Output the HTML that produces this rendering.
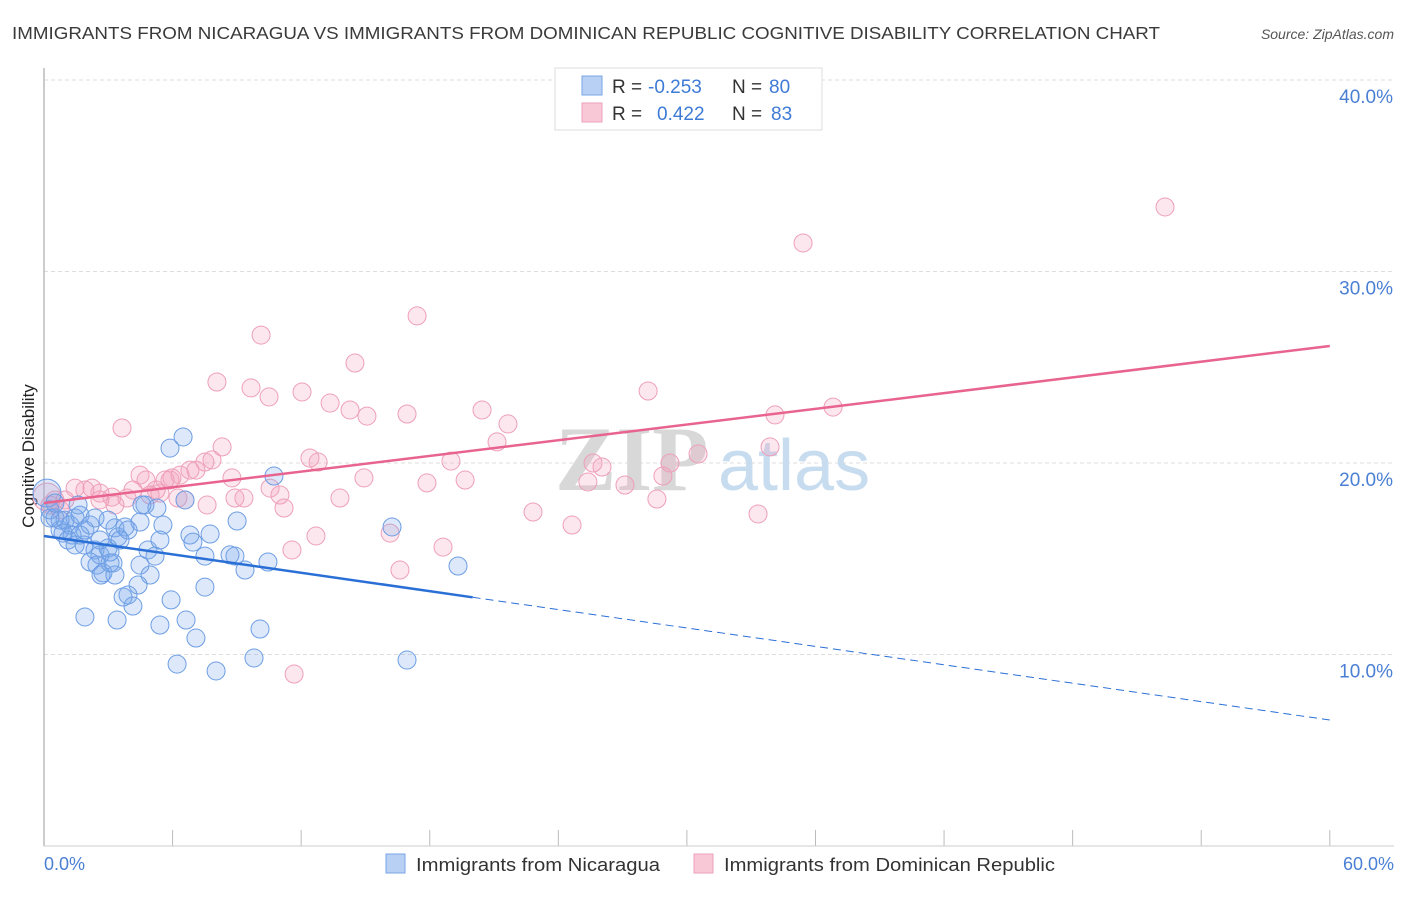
<!DOCTYPE html>
<html><head><meta charset="utf-8"><style>
body{margin:0;background:#fff;font-family:"Liberation Sans",sans-serif;}
</style></head><body>
<svg id="chart" width="1406" height="892" xmlns="http://www.w3.org/2000/svg" font-family="Liberation Sans, sans-serif">
<text x="12" y="39" font-size="17.5" fill="#3a3a3a" textLength="1148" lengthAdjust="spacingAndGlyphs">IMMIGRANTS FROM NICARAGUA VS IMMIGRANTS FROM DOMINICAN REPUBLIC COGNITIVE DISABILITY CORRELATION CHART</text>
<text x="1394" y="39" font-size="14" fill="#555" font-style="italic" text-anchor="end">Source: ZipAtlas.com</text>
<g id="grid"></g>
<text x="555" y="490" font-size="92" fill="#d8d8d8" font-family="Liberation Serif, serif" font-weight="bold">ZIP</text>
<text x="718" y="490" font-size="72" fill="#c8dcf0">atlas</text>
<line x1="44" y1="68" x2="44" y2="846" stroke="#bbb" stroke-width="1.5"/>
<line x1="44" y1="846" x2="1394" y2="846" stroke="#ccc" stroke-width="1"/>
<text transform="translate(34,456) rotate(-90)" font-size="17" fill="#222" text-anchor="middle">Cognitive Disability</text>
<text x="44" y="870" font-size="18" fill="#4a7fd4">0.0%</text>
<text x="1394" y="870" font-size="18" fill="#4a7fd4" text-anchor="end">60.0%</text>
<g id="marks"></g>
<g>
<rect x="555" y="68" width="267" height="62" fill="#fff" stroke="#ddd"/>
<rect x="582" y="76" width="20" height="19" fill="#b8d0f4" stroke="#7aa5e6"/>
<rect x="582" y="103" width="20" height="19" fill="#f8c8d6" stroke="#eea0b8"/>
<text x="612" y="93" font-size="19" fill="#333">R =</text>
<text x="648" y="93" font-size="19" fill="#3e7bd6">-0.253</text>
<text x="732" y="93" font-size="19" fill="#333">N =</text>
<text x="769" y="93" font-size="19" fill="#3e7bd6">80</text>
<text x="612" y="120" font-size="19" fill="#333">R =</text>
<text x="657" y="120" font-size="19" fill="#3e7bd6">0.422</text>
<text x="732" y="120" font-size="19" fill="#333">N =</text>
<text x="771" y="120" font-size="19" fill="#3e7bd6">83</text>
</g>
<g>
<rect x="386" y="854" width="19" height="19" fill="#b8d0f4" stroke="#7aa5e6"/>
<text x="416" y="871" font-size="18.5" fill="#333" textLength="244" lengthAdjust="spacingAndGlyphs">Immigrants from Nicaragua</text>
<rect x="694" y="854" width="19" height="19" fill="#f8c8d6" stroke="#eea0b8"/>
<text x="724" y="871" font-size="18.5" fill="#333" textLength="331" lengthAdjust="spacingAndGlyphs">Immigrants from Dominican Republic</text>
</g>
</svg>
<script>
const yTicks=[10,20,30,40];
const yTickLabels=["10.0%","20.0%","30.0%","40.0%"];
const xTicks=[0,6,12,18,24,30,36,42,48,54,60];
const blueX=[0.14,0.28,0.51,0.75,0.98,1.21,1.45,1.68,1.91,2.15,0.89,1.31,1.87,2.38,2.61,2.99,2.15,2.47,2.75,3.22,2.66,3.31,3.08,3.45,3.31,3.78,3.92,4.48,4.71,5.27,5.55,5.88,6.49,6.58,6.81,6.95,4.85,5.18,4.95,4.48,4.39,3.92,3.69,4.15,1.91,3.41,5.41,6.63,5.93,7.09,7.51,7.75,7.51,8.68,8.91,9.01,9.38,10.45,10.73,10.08,9.80,8.03,6.21,16.24,16.94,19.32,3.08,3.55,5.41,4.57,1.59,2.38,0.75,1.12,1.68,0.28,0.51,1.45,2.61,2.99];
const blueY=[18.43,17.55,17.13,16.5,17.02,16.76,17.13,17.28,16.5,16.76,16.34,16.24,15.72,15.46,15.2,15.56,14.83,14.67,14.26,14.78,14.15,14.15,14.78,16.14,16.61,16.66,16.5,16.92,17.81,17.65,16.76,20.78,21.36,18.07,16.24,15.87,15.46,15.14,14.15,14.67,13.63,13.11,13.0,12.53,11.96,11.8,11.54,11.8,12.85,10.86,13.52,16.29,15.14,15.2,15.14,16.97,14.41,14.83,19.32,11.33,9.82,9.14,9.5,16.66,9.71,14.62,15.35,15.98,15.98,17.81,17.81,17.13,17.02,15.98,16.24,17.13,17.91,15.72,15.98,17.02];
const pinkX=[0.14,0.51,0.75,1.45,2.24,2.61,3.17,3.31,3.87,4.15,3.64,4.48,4.76,5.41,5.23,5.88,5.97,6.35,6.58,6.81,7.09,7.51,7.84,8.31,8.07,8.77,8.91,9.33,9.66,10.13,10.5,10.55,11.01,11.2,11.57,11.67,12.04,12.41,12.79,12.69,13.35,13.81,14.28,14.51,14.93,15.07,16.15,16.61,16.94,17.41,17.87,18.62,18.99,19.65,20.44,21.14,21.65,22.82,24.64,25.38,25.62,26.04,27.11,28.19,28.6,28.88,29.21,30.52,33.32,33.88,34.11,35.42,36.82,52.31,0.28,0.98,1.91,2.61,4.95,5.65,7.61,6.25];
const pinkY=[18.22,18.07,17.55,18.69,18.69,18.43,18.22,17.81,18.17,18.59,21.83,19.37,19.11,18.43,18.59,19.11,19.22,19.37,18.07,19.63,19.63,20.05,20.16,20.84,24.23,19.22,18.17,18.17,23.92,26.68,23.45,18.69,18.33,17.65,15.46,8.98,23.71,20.26,20.05,16.19,23.13,18.17,22.77,25.22,19.22,22.45,16.34,14.41,22.56,27.68,18.96,15.61,20.1,19.11,22.77,21.1,22.04,17.44,16.76,19.01,20.0,19.79,18.85,23.76,18.12,19.32,20.0,20.47,17.34,20.84,22.51,31.49,22.92,33.37,17.81,18.07,18.59,18.07,18.33,19.11,17.81,18.17];
const blueTrend=[16.19,6.58];
const blueSolidEnd=20;
const pinkTrend=[17.91,26.11];

const NS="http://www.w3.org/2000/svg";
const sx=v=>44+v*21.43;
const sy=v=>846-v*19.15;
function mk(tag,attrs,parent){const e=document.createElementNS(NS,tag);for(const k in attrs)e.setAttribute(k,attrs[k]);parent.appendChild(e);return e;}
const grid=document.getElementById('grid');
yTicks.forEach((t,i)=>{
  const l=mk('line',{x1:44,x2:1394,y1:sy(t),y2:sy(t),stroke:'#ddd','stroke-dasharray':'4,3'},grid);
  
  
  const tx=mk('text',{x:1393,y:sy(t)+23,'font-size':19,fill:'#4a7fd4','text-anchor':'end'},grid);
  tx.textContent=yTickLabels[i];
  
  
});
xTicks.forEach(t=>{
  const l=mk('line',{x1:sx(t),x2:sx(t),y1:830,y2:846,stroke:'#bbb'},grid);
  
  
});
const marks=document.getElementById('marks');
function pts(X,Y,fill,stroke,name){
  X.forEach((x,i)=>{
    const c=mk('circle',{cx:sx(x),cy:sy(Y[i]),r:i===0?14:9,fill:fill,stroke:stroke,'stroke-width':1},marks);
    
    
  });
}
pts(pinkX,pinkY,'rgba(244,160,186,0.25)','#ee9fb9','point-dominican');
pts(blueX,blueY,'rgba(120,168,236,0.25)','#6d9de4','point-nicaragua');
const by=x=>blueTrend[0]+(blueTrend[1]-blueTrend[0])*x/60;
let l1=mk('line',{x1:sx(0),y1:sy(by(0)),x2:sx(blueSolidEnd),y2:sy(by(blueSolidEnd)),stroke:'#2a6fd6','stroke-width':2.5},marks);


let l2=mk('line',{x1:sx(blueSolidEnd),y1:sy(by(blueSolidEnd)),x2:sx(60),y2:sy(by(60)),stroke:'#2a6fd6','stroke-width':1,'stroke-dasharray':'8,5'},marks);


let l3=mk('line',{x1:sx(0),y1:sy(pinkTrend[0]),x2:sx(60),y2:sy(pinkTrend[1]),stroke:'#e8648f','stroke-width':2.5},marks);


</script>
</body></html>
